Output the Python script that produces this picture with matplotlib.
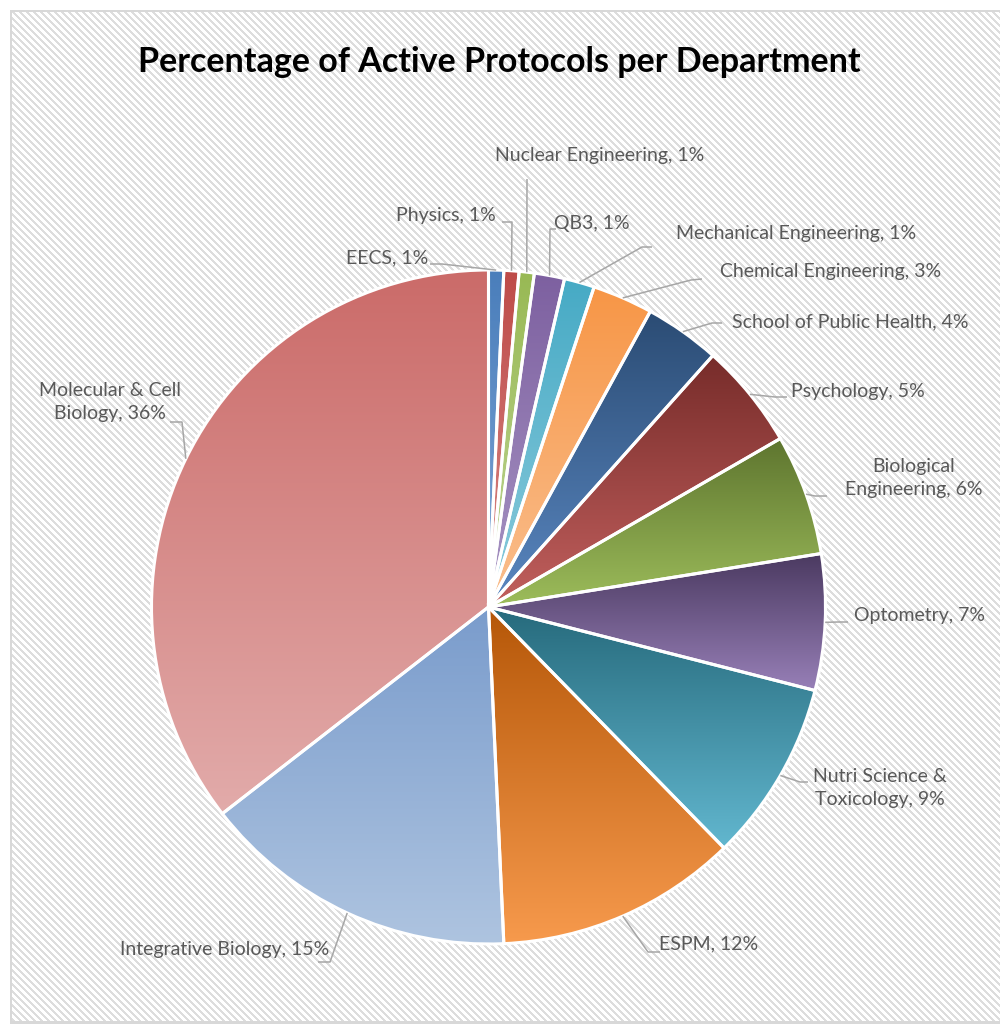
import numpy as np
import matplotlib
matplotlib.use("Agg")
import matplotlib.pyplot as plt
from matplotlib.colors import LinearSegmentedColormap

# ---------------- data ----------------
departments = ["EECS", "Physics", "Nuclear Engineering", "QB3",
               "Mechanical Engineering", "Chemical Engineering",
               "School of Public Health", "Psychology",
               "Biological\nEngineering", "Optometry",
               "Nutri Science &\nToxicology", "ESPM",
               "Integrative Biology", "Molecular & Cell\nBiology"]
protocols = [1, 1, 1, 2, 2, 4, 5, 7, 8, 9, 12, 16, 21, 49]

# ---------------- styles ----------------
top_colors = ["#4a7ebb", "#be4b48", "#98b954", "#7d60a0", "#46aac5", "#f79646",
              "#2b4c74", "#772c2a", "#5e752f", "#4b3a61", "#266a7c", "#b55708",
              "#7a9ccc", "#cb6b69"]
bot_colors = ["#7fa6d6", "#d88a88", "#c0d697", "#a895c4", "#8ccbdc", "#fabf8f",
              "#5a87c1", "#c2605e", "#9dbd5b", "#9880b8", "#62b7cf", "#f79a4d",
              "#aec4e0", "#e2abaa"]

# label centres (image pixel coords) and leader start/elbow points
label_pos = [(387, 258), (446, 216), (600, 155), (592, 224), (796, 233),
             (831, 272), (850, 322), (858, 391), (914, 478), (919, 615),
             (880, 788), (709, 944), (225, 949), (110, 402)]
leader_pts = [[(430, 264), (442, 264)], [(502, 222), (512, 222)],
              [(527, 179), (527, 181)], [(556, 229), (550, 229)],
              [(652, 247), (642, 247)], [(702, 279), (691, 280)],
              [(722, 323), (712, 323)], [(787, 397), (775, 397)],
              [(827, 496), (815, 496)], [(848, 622), (838, 622)],
              [(808, 782), (800, 782)], [(660, 952), (648, 952)],
              [(318, 962), (330, 962)], [(170, 422), (182, 422)]]

W, H = 1000, 1024
def P(x, y):
    return (x, H - y)

fig = plt.figure(figsize=(W / 100, H / 100), dpi=100)

# striped background with border
yy, xx = np.mgrid[0:H, 0:W]
bg = np.ones((H, W, 3))
stripe = ((xx - yy) % 7) < 3
bg[stripe] = 0.87
bg[(xx < 10) | (yy < 10)] = 1.0
bg[(xx >= 10) & (xx <= 11) & (yy >= 10)] = 0.85
bg[(yy >= 10) & (yy <= 11) & (xx >= 10)] = 0.85
bg[(yy >= H - 3) & (xx >= 10)] = 0.85
fig.figimage(bg, xo=0, yo=0, origin="upper", zorder=-5)

ax = fig.add_axes([0, 0, 1, 1])
ax.patch.set_alpha(0)

cx, cy, R = 488.5, 607, 337
wedges, _ = ax.pie(protocols, startangle=90, counterclock=False,
                   center=P(cx, cy), radius=R,
                   wedgeprops=dict(edgecolor="white", linewidth=2.2))

grad = np.linspace(0, 1, 256).reshape(-1, 1)
for w, tc, bc in zip(wedges, top_colors, bot_colors):
    ext = w.get_path().get_extents()
    cmap = LinearSegmentedColormap.from_list("g", [bc, tc])
    im = ax.imshow(grad, extent=(ext.x0, ext.x1, ext.y0, ext.y1),
                   origin="lower", cmap=cmap, aspect="auto",
                   interpolation="bilinear", zorder=1)
    im.set_clip_path(w)
    w.set_facecolor("none")
    w.set_zorder(2)

total = sum(protocols)
label_font = ["Lato", "DejaVu Sans"]
for w, name, cnt, lp, pts in zip(wedges, departments, protocols, label_pos, leader_pts):
    pct = int(100 * cnt / total + 0.5)
    ax.text(*P(*lp), f"{name}, {pct}%", ha="center", va="center",
            fontsize=14, color="#595959", family=label_font,
            linespacing=1.45, zorder=5)
    mid = np.deg2rad((w.theta1 + w.theta2) / 2)
    ex = w.center[0] + R * np.cos(mid)
    ey = w.center[1] + R * np.sin(mid)
    xs = [P(*p)[0] for p in pts] + [ex]
    ys = [P(*p)[1] for p in pts] + [ey]
    ax.plot(xs, ys, color="#a6a6a6", lw=1.1, zorder=4, solid_capstyle="butt")

ax.text(*P(499, 62), "Percentage of Active Protocols per Department",
        ha="center", va="center", fontsize=24.5, fontweight="bold",
        color="black", family=label_font, zorder=5)

ax.set_xlim(0, W)
ax.set_ylim(0, H)
ax.set_aspect("auto")
ax.axis("off")

fig.savefig("out.png", dpi=100)
